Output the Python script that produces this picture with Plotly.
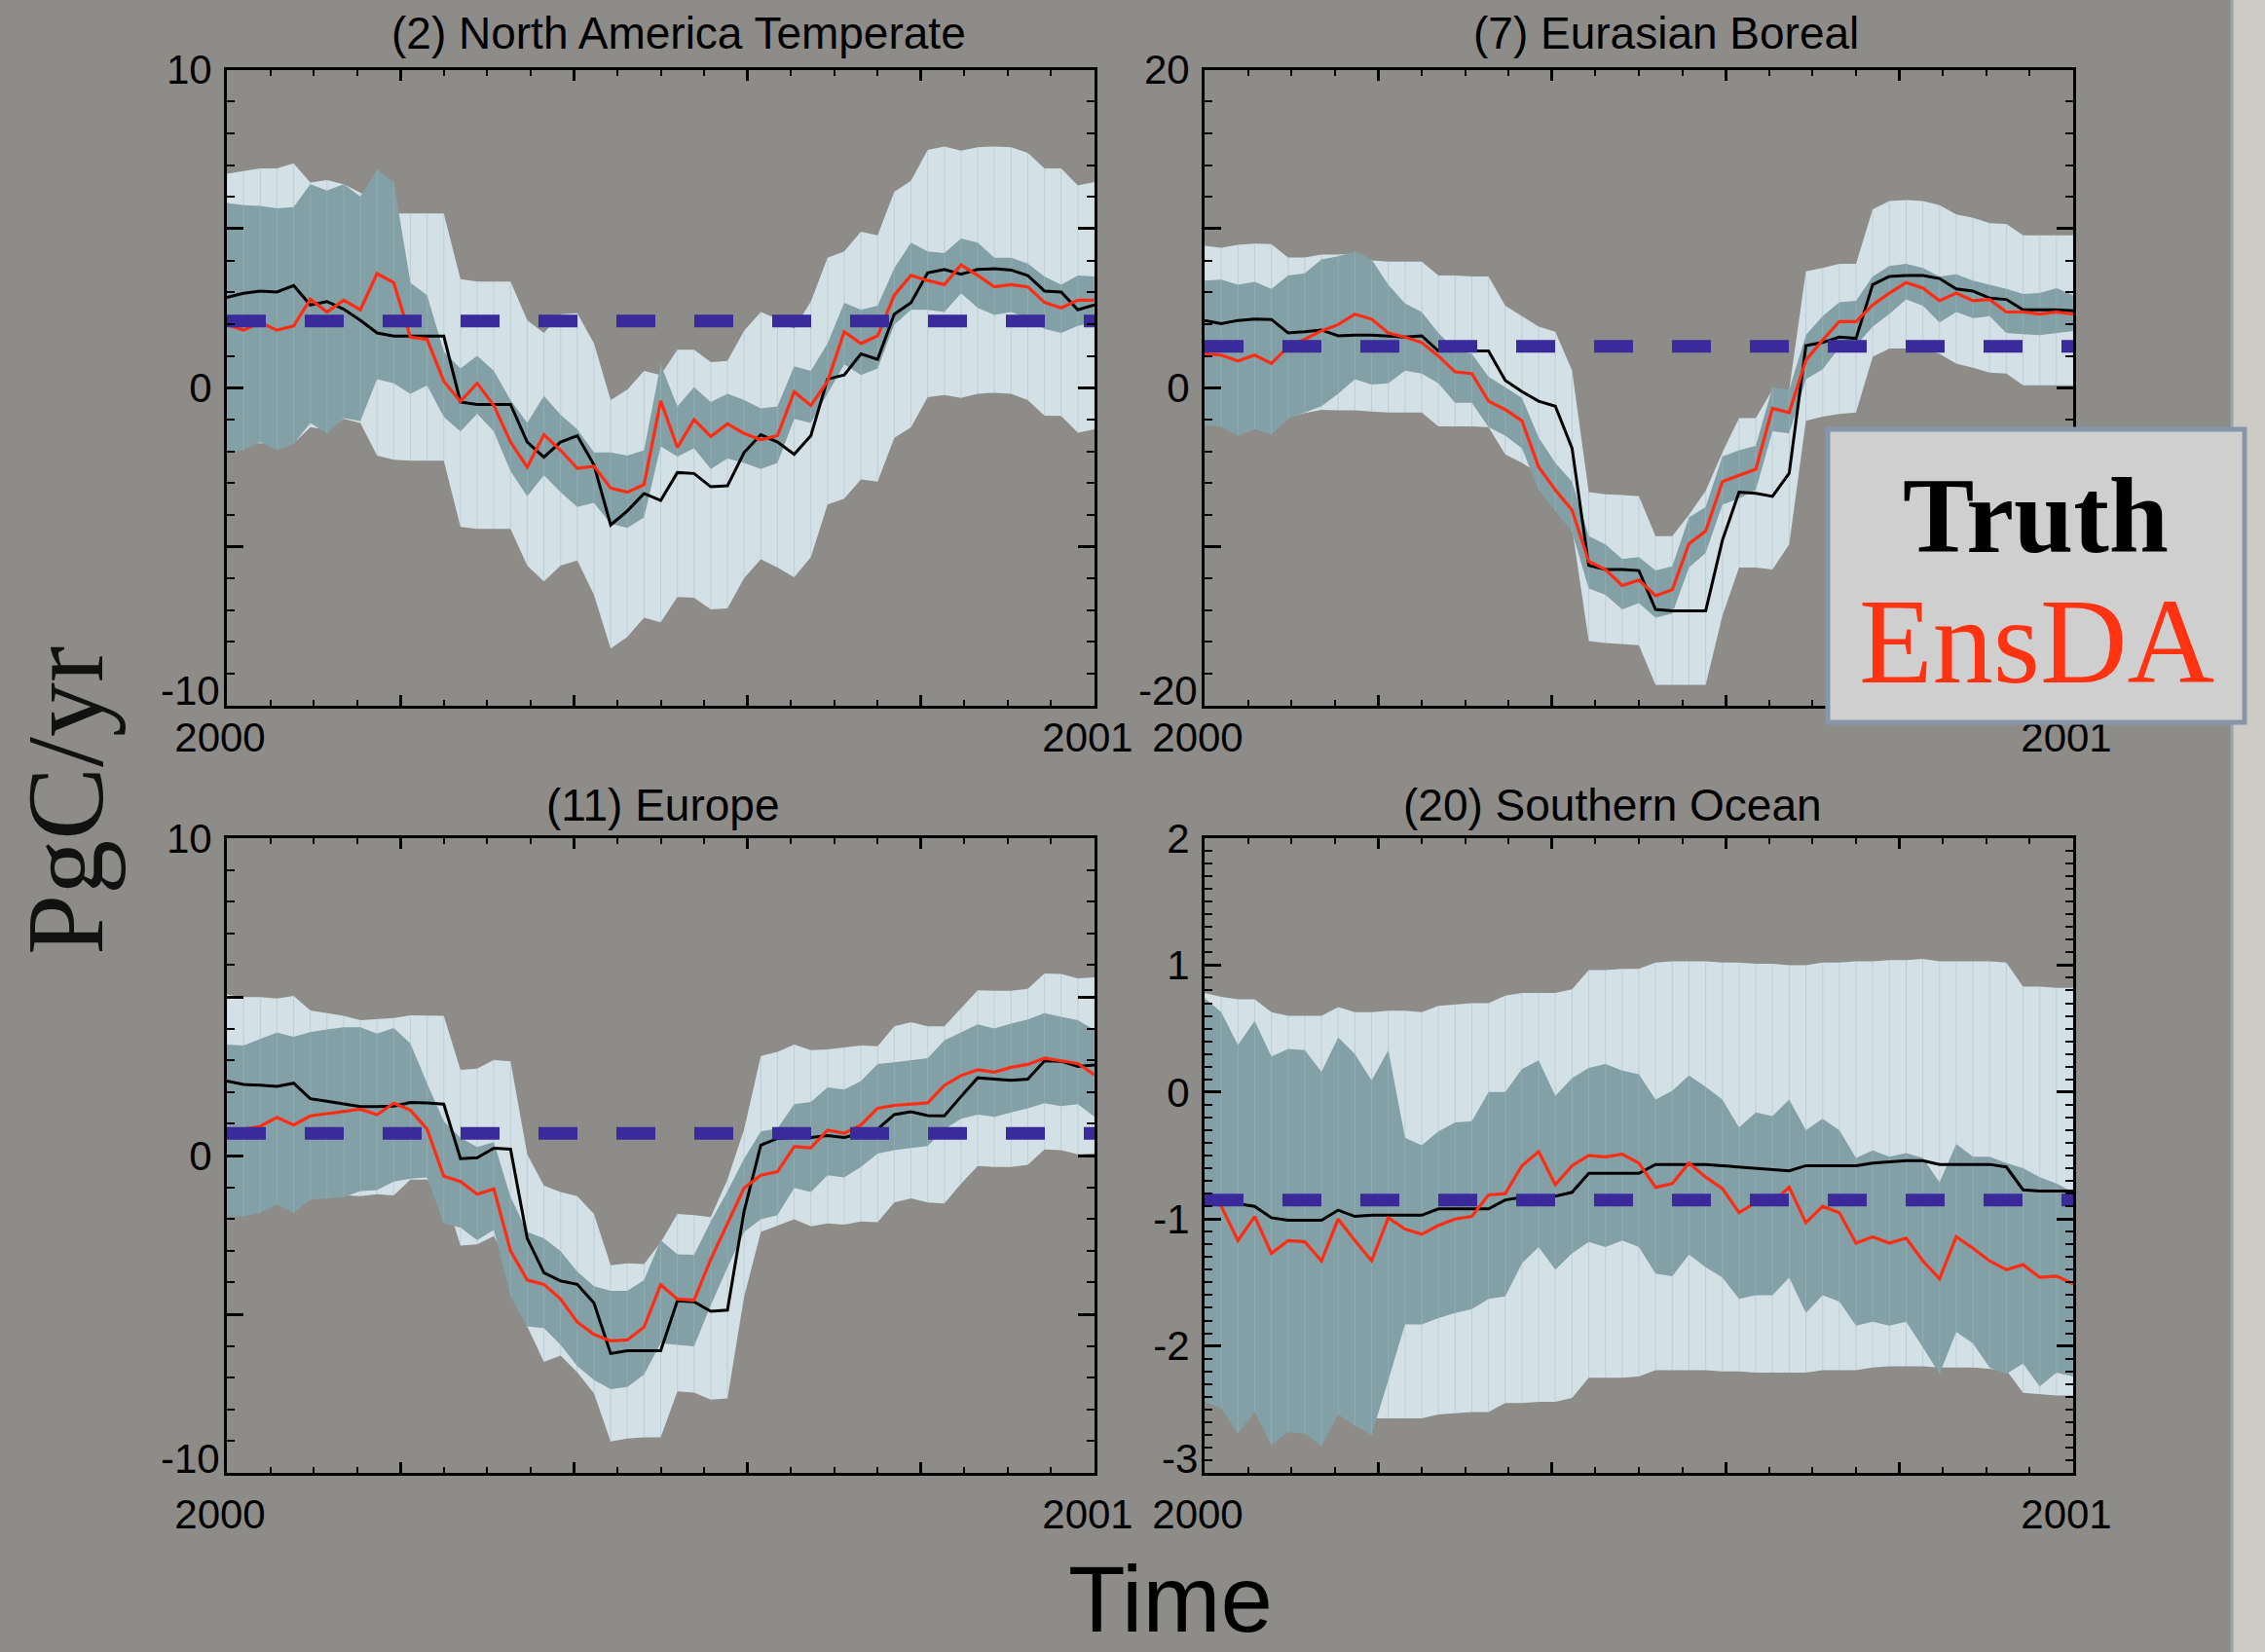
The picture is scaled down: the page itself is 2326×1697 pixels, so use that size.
import plotly.graph_objects as go

W, H = 2326, 1697

# ---------------- data (weekly values over one year) ----------------
weeks = list(range(53))
time = [2000 + w / 52 for w in weeks]

# (2) North America Temperate
na_light_hi = [6.73, 6.82, 6.90, 6.90, 7.06, 6.45, 6.53, 6.40, 6.14, 5.87, 5.48, 5.48, 5.48, 5.48, 3.41, 3.34, 3.34, 3.34, 2.12, 1.72,
               2.31, 2.34, 1.39, -0.39, -0.06, 0.53, 0.40, 1.19, 1.19, 0.80, 0.84, 1.79, 2.38, 2.16, 1.85, 2.71, 4.09, 4.29, 4.91, 4.79,
               6.16, 6.51, 7.48, 7.59, 7.46, 7.56, 7.59, 7.56, 7.39, 6.90, 6.90, 6.36, 6.47]
na_light_lo = [-1.77, -1.77, -1.75, -1.77, -1.75, -1.25, -1.31, -0.98, -1.11, -2.14, -2.27, -2.30, -2.30, -2.30, -4.38, -4.44, -4.44, -4.44, -5.60, -6.10,
               -5.60, -5.44, -6.52, -8.21, -7.84, -7.24, -7.38, -6.59, -6.61, -6.98, -6.95, -5.99, -5.40, -5.66, -5.97, -5.33, -3.68, -3.49, -2.89, -2.96,
               -1.58, -1.25, -0.30, -0.23, -0.32, -0.19, -0.16, -0.19, -0.39, -0.88, -0.89, -1.42, -1.31]
na_dark_hi = [5.81, 5.74, 5.72, 5.64, 5.68, 6.40, 6.20, 6.40, 6.01, 6.86, 6.47, 3.30, 2.91, 1.13, 0.60, 1.00, 0.53, -0.39, -1.11, -0.26,
              -0.85, -1.31, -2.04, -2.04, -2.14, -1.97, 0.73, -0.59, 0.01, -0.45, -0.19, -0.39, -0.65, -0.59, 0.67, 0.53, 1.39, 2.67, 2.45, 2.58,
              3.76, 4.56, 4.29, 4.23, 4.69, 4.56, 4.09, 4.09, 3.90, 3.50, 3.24, 3.53, 3.50]
na_dark_lo = [-2.04, -1.97, -1.71, -1.97, -1.77, -1.11, -1.44, -0.96, -1.05, 0.27, 0.14, -0.19, 0.07, -0.92, -1.38, -0.82, -1.38, -2.63, -3.42, -2.76,
              -3.29, -3.75, -3.62, -4.28, -4.41, -4.08, -1.85, -2.17, -1.91, -2.56, -2.23, -2.37, -2.56, -2.37, -0.98, -1.11, -0.19, 0.73, 0.40, 0.60,
              1.98, 2.45, 2.45, 2.38, 2.97, 2.51, 2.29, 2.38, 2.18, 1.85, 1.72, 1.94, 2.05]
na_truth = [2.84, 2.97, 3.04, 3.01, 3.21, 2.60, 2.71, 2.47, 2.12, 1.72, 1.62, 1.62, 1.62, 1.62, -0.45, -0.53, -0.53, -0.53, -1.71, -2.19,
            -1.71, -1.51, -2.43, -4.32, -3.88, -3.33, -3.55, -2.67, -2.70, -3.12, -3.09, -2.04, -1.48, -1.71, -2.10, -1.51, 0.27, 0.40, 1.06, 0.89,
            2.31, 2.67, 3.61, 3.72, 3.57, 3.72, 3.74, 3.70, 3.53, 3.04, 3.01, 2.45, 2.60]
na_ensda = [1.98, 1.81, 2.05, 1.81, 1.94, 2.78, 2.38, 2.75, 2.45, 3.59, 3.30, 1.59, 1.52, 0.20, -0.43, 0.14, -0.56, -1.71, -2.50, -1.48,
            -1.97, -2.54, -2.47, -3.16, -3.29, -3.05, -0.42, -1.88, -1.01, -1.54, -1.14, -1.44, -1.64, -1.51, -0.13, -0.56, 0.20, 1.76, 1.39, 1.63,
            2.91, 3.53, 3.37, 3.24, 3.86, 3.53, 3.17, 3.24, 3.17, 2.68, 2.51, 2.75, 2.75]
na_prior = 2.1

# (7) Eurasian Boreal
eb_light_hi = [8.93, 8.80, 8.98, 9.06, 9.03, 8.19, 8.19, 8.37, 8.37, 8.45, 8.00, 7.93, 7.93, 7.93, 7.06, 7.06, 7.00, 7.00, 5.16, 4.50,
               3.84, 3.52, 1.07, -6.57, -6.71, -6.76, -6.84, -9.34, -9.34, -8.00, -6.50, -4.07, -1.91, -1.91, -0.12, -0.12, 7.32, 7.53, 7.79, 7.79,
               11.22, 11.75, 11.80, 11.75, 11.48, 10.90, 10.69, 10.35, 10.30, 9.59, 9.59, 9.59, 9.59]
eb_light_lo = [-1.90, -1.95, -2.10, -2.00, -2.10, -1.90, -1.60, -1.40, -1.43, -1.43, -1.51, -1.57, -1.57, -1.57, -2.44, -2.44, -2.44, -2.49, -4.20, -4.73,
               -5.39, -6.97, -8.82, -15.94, -16.07, -16.15, -16.20, -18.70, -18.70, -18.70, -18.70, -14.35, -11.32, -11.32, -11.45, -9.87, -2.09, -1.83, -1.65, -1.57,
               1.94, 2.47, 2.47, 2.47, 2.13, 1.52, 1.26, 0.94, 0.89, 0.15, 0.15, 0.15, 0.15]
eb_dark_hi = [6.74, 6.79, 6.48, 6.66, 6.21, 7.06, 7.19, 8.06, 8.27, 8.58, 8.06, 6.48, 5.29, 4.76, 3.44, 2.39, 2.13, 0.68, 0.02, -0.64,
              -3.15, -4.73, -5.92, -9.35, -9.87, -10.79, -10.66, -11.51, -11.24, -8.16, -7.50, -4.33, -3.94, -3.67, 0.02, -0.12, 3.31, 4.50, 5.37, 5.47,
              7.00, 7.66, 7.79, 7.53, 7.00, 7.13, 6.74, 6.48, 6.21, 5.90, 5.95, 6.26, 5.82]
eb_dark_lo = [-2.36, -2.49, -3.02, -2.62, -2.96, -1.96, -1.57, -1.17, -0.38, 0.54, 0.20, 0.28, 1.07, 0.89, 0.28, -0.96, -0.96, -2.49, -3.02, -3.81,
              -6.44, -7.76, -9.08, -12.64, -13.04, -13.96, -13.56, -14.48, -14.22, -11.32, -10.40, -7.37, -6.97, -6.44, -2.75, -2.88, 0.54, 1.15, 2.52, 2.65,
              3.84, 4.63, 5.55, 5.16, 4.10, 4.76, 4.37, 4.50, 3.44, 3.36, 3.31, 3.44, 3.57]
eb_truth = [4.23, 4.02, 4.23, 4.31, 4.29, 3.44, 3.52, 3.63, 3.26, 3.31, 3.31, 3.23, 3.18, 3.26, 2.31, 2.31, 2.31, 2.31, 0.46, -0.25,
            -0.85, -1.17, -3.81, -11.19, -11.45, -11.45, -11.51, -13.96, -14.04, -14.04, -14.04, -9.61, -6.57, -6.65, -6.84, -5.39, 2.65, 2.84, 3.18, 3.10,
            6.48, 7.00, 7.06, 7.06, 6.87, 6.21, 6.08, 5.63, 5.55, 4.89, 4.89, 4.89, 4.84]
eb_ensda = [2.13, 2.05, 1.68, 2.05, 1.52, 2.57, 3.05, 3.57, 3.97, 4.63, 4.31, 3.44, 3.18, 2.84, 1.99, 0.99, 0.89, -0.85, -1.38, -2.09,
            -4.99, -6.44, -7.71, -10.93, -11.45, -12.45, -12.11, -13.09, -12.72, -9.82, -9.03, -5.92, -5.52, -5.13, -1.30, -1.57, 1.73, 2.99, 4.16, 4.16,
            5.21, 5.95, 6.61, 6.26, 5.47, 5.95, 5.47, 5.55, 4.76, 4.76, 4.63, 4.76, 4.63]
eb_prior = 2.6

# (11) Europe
eu_light_hi = [5.08, 4.99, 4.99, 4.95, 5.03, 4.57, 4.49, 4.40, 4.26, 4.29, 4.33, 4.42, 4.42, 4.40, 2.70, 2.74, 3.01, 2.97, 0.04, -0.95,
               -1.15, -1.28, -1.84, -3.46, -3.40, -3.42, -2.74, -1.84, -1.88, -1.94, -0.76, 0.83, 3.14, 3.27, 3.50, 3.32, 3.34, 3.40, 3.47, 3.44,
               4.07, 4.20, 4.07, 4.07, 4.63, 5.21, 5.19, 5.19, 5.25, 5.74, 5.72, 5.58, 5.61]
eu_light_lo = [-1.30, -1.30, -1.25, -1.30, -1.30, -1.15, -1.10, -1.25, -1.28, -1.22, -1.26, -0.76, -0.76, -1.13, -2.84, -2.80, -2.54, -3.53, -5.38, -6.50,
               -6.30, -6.83, -7.49, -9.01, -8.92, -8.88, -8.88, -7.43, -7.47, -7.69, -7.65, -4.45, -2.41, -2.21, -2.01, -2.23, -2.14, -2.18, -2.08, -2.10,
               -1.48, -1.35, -1.48, -1.51, -0.89, -0.33, -0.36, -0.36, -0.29, 0.19, 0.17, 0.04, 0.07]
eu_dark_hi = [3.50, 3.47, 3.67, 3.87, 3.74, 3.89, 3.97, 4.04, 4.04, 3.84, 4.02, 3.53, 2.27, 1.08, 0.56, 0.27, 0.42, -1.30, -2.41, -2.61,
              -3.01, -3.66, -4.12, -4.26, -4.26, -3.93, -2.67, -3.11, -3.13, -2.08, -1.13, -0.10, 0.76, 0.85, 1.62, 1.69, 2.15, 2.08, 2.35, 2.88,
              2.94, 3.01, 3.07, 3.63, 3.89, 4.13, 4.00, 4.16, 4.29, 4.49, 4.37, 4.26, 3.96]
eu_dark_lo = [-1.92, -1.92, -1.81, -1.55, -1.81, -1.39, -1.35, -1.31, -1.12, -1.09, -0.82, -0.73, -0.69, -2.14, -2.27, -2.67, -2.34, -4.45, -5.38, -5.44,
              -5.97, -6.63, -7.07, -7.36, -7.29, -6.90, -5.91, -5.97, -6.01, -4.72, -3.53, -2.41, -2.01, -1.88, -1.02, -1.15, -0.62, -0.69, -0.36, 0.06,
              0.17, 0.24, 0.30, 0.83, 1.16, 1.29, 1.22, 1.36, 1.49, 1.65, 1.56, 1.62, 1.22]
eu_truth = [2.35, 2.24, 2.22, 2.18, 2.28, 1.79, 1.71, 1.62, 1.54, 1.54, 1.56, 1.67, 1.66, 1.62, -0.10, -0.07, 0.23, 0.20, -2.61, -3.69,
            -3.95, -4.06, -4.65, -6.24, -6.15, -6.15, -6.15, -4.58, -4.61, -4.91, -4.87, -1.75, 0.33, 0.54, 0.57, 0.57, 0.63, 0.57, 0.70, 0.83,
            1.29, 1.38, 1.26, 1.25, 1.86, 2.45, 2.41, 2.37, 2.41, 2.98, 2.97, 2.81, 2.85]
eu_ensda = [0.80, 0.83, 0.92, 1.20, 0.96, 1.25, 1.32, 1.39, 1.46, 1.29, 1.65, 1.43, 0.83, -0.65, -0.82, -1.22, -1.05, -3.00, -3.92, -4.06,
            -4.52, -5.25, -5.64, -5.84, -5.81, -5.41, -4.07, -4.52, -4.56, -3.27, -2.14, -1.02, -0.62, -0.51, 0.28, 0.24, 0.80, 0.70, 0.96, 1.49,
            1.58, 1.62, 1.66, 2.21, 2.52, 2.70, 2.63, 2.78, 2.87, 3.07, 2.98, 2.90, 2.54]
eu_prior = 0.7

# (20) Southern Ocean
so_light_hi = [0.78, 0.75, 0.73, 0.73, 0.63, 0.60, 0.60, 0.60, 0.67, 0.63, 0.63, 0.64, 0.64, 0.63, 0.68, 0.69, 0.70, 0.70, 0.76, 0.78,
               0.78, 0.78, 0.81, 0.96, 0.96, 0.97, 0.97, 1.02, 1.03, 1.03, 1.03, 1.02, 1.02, 1.01, 1.01, 1.00, 1.00, 1.02, 1.02, 1.03,
               1.03, 1.04, 1.04, 1.05, 1.03, 1.03, 1.03, 1.03, 1.02, 0.83, 0.83, 0.82, 0.82]
so_light_lo = [-2.42, -2.47, -2.50, -2.52, -2.54, -2.54, -2.54, -2.55, -2.54, -2.60, -2.57, -2.57, -2.57, -2.57, -2.54, -2.53, -2.52, -2.52, -2.45, -2.45,
               -2.44, -2.44, -2.41, -2.25, -2.25, -2.25, -2.24, -2.19, -2.19, -2.19, -2.19, -2.20, -2.20, -2.21, -2.21, -2.21, -2.21, -2.19, -2.19, -2.19,
               -2.17, -2.16, -2.16, -2.16, -2.17, -2.17, -2.17, -2.18, -2.19, -2.37, -2.38, -2.39, -2.39]
so_dark_hi = [0.74, 0.63, 0.37, 0.56, 0.28, 0.34, 0.33, 0.16, 0.43, 0.30, 0.09, 0.33, -0.36, -0.42, -0.31, -0.24, -0.23, 0.00, 0.00, 0.18,
              0.25, -0.03, 0.11, 0.19, 0.22, 0.17, 0.14, -0.06, 0.01, 0.13, 0.04, -0.06, -0.28, -0.16, -0.19, -0.06, -0.30, -0.21, -0.30, -0.52,
              -0.46, -0.51, -0.48, -0.52, -0.71, -0.41, -0.51, -0.51, -0.56, -0.60, -0.67, -0.72, -0.79]
so_dark_lo = [-2.44, -2.49, -2.69, -2.52, -2.78, -2.68, -2.69, -2.79, -2.54, -2.63, -2.70, -2.27, -1.83, -1.83, -1.78, -1.74, -1.71, -1.63, -1.61, -1.35,
              -1.22, -1.40, -1.27, -1.18, -1.22, -1.17, -1.22, -1.43, -1.45, -1.28, -1.38, -1.46, -1.63, -1.60, -1.60, -1.46, -1.74, -1.60, -1.65, -1.84,
              -1.81, -1.84, -1.81, -2.01, -2.22, -1.89, -1.98, -2.17, -2.22, -2.14, -2.32, -2.21, -2.24]
so_truth = [-0.82, -0.87, -0.88, -0.90, -0.99, -1.01, -1.01, -1.01, -0.93, -0.98, -0.97, -0.97, -0.97, -0.97, -0.92, -0.92, -0.92, -0.92, -0.85, -0.83,
            -0.82, -0.82, -0.79, -0.64, -0.64, -0.64, -0.64, -0.57, -0.57, -0.57, -0.57, -0.58, -0.59, -0.60, -0.61, -0.62, -0.58, -0.58, -0.58, -0.58,
            -0.56, -0.55, -0.54, -0.54, -0.57, -0.57, -0.57, -0.57, -0.59, -0.77, -0.78, -0.78, -0.78]
so_ensda = [-0.82, -0.90, -1.17, -0.98, -1.27, -1.17, -1.18, -1.33, -1.00, -1.17, -1.33, -0.99, -1.08, -1.12, -1.05, -1.00, -0.98, -0.81, -0.80, -0.58,
            -0.47, -0.73, -0.58, -0.50, -0.51, -0.49, -0.56, -0.75, -0.72, -0.56, -0.67, -0.76, -0.95, -0.87, -0.87, -0.75, -1.03, -0.90, -0.95, -1.19,
            -1.14, -1.19, -1.15, -1.33, -1.47, -1.14, -1.23, -1.33, -1.40, -1.36, -1.46, -1.45, -1.51]
so_prior = -0.85

# tick labels
x_tickvals = [2000, 2000.2, 2000.4, 2000.6, 2000.8, 2001]
x_ticktext = ["2000", "", "", "", "", "2001"]

# ---------------- styling ----------------
BG = "#8e8c88"
LIGHT = "#d3e0e6"
DARK = "#82a0a6"
RED = "#ff2b12"
BLUE = "#3a2a9c"
TICKFONT = dict(family="Liberation Sans, Arial, sans-serif", size=42, color="black")


def px(xp):
    return xp / W


def py(yp):
    return 1 - yp / H


xl = [px(233), px(1124)]
xr = [px(1237), px(2129)]
yt = [py(724.7), py(71.7)]
yb = [py(1513), py(861)]

panels = [
    dict(title="(2) North America Temperate", tx=697, ty=34, xd=xl, yd=yt, left=233, bottom=724.7,
         lhi=na_light_hi, llo=na_light_lo, dhi=na_dark_hi, dlo=na_dark_lo,
         truth=na_truth, ens=na_ensda, prior=na_prior,
         yrange=[-10, 10], ytv=[-10, -5, 0, 5, 10], ytt=["-10", "", "0", "", "10"], ymin=1, xstand=-6),
    dict(title="(7) Eurasian Boreal", tx=1711, ty=34, xd=xr, yd=yt, left=1237, bottom=724.7,
         lhi=eb_light_hi, llo=eb_light_lo, dhi=eb_dark_hi, dlo=eb_dark_lo,
         truth=eb_truth, ens=eb_ensda, prior=eb_prior,
         yrange=[-20, 20], ytv=[-20, -10, 0, 10, 20], ytt=["-20", "", "0", "", "20"], ymin=2, xstand=-6),
    dict(title="(11) Europe", tx=681, ty=827, xd=xl, yd=yb, left=233, bottom=1513,
         lhi=eu_light_hi, llo=eu_light_lo, dhi=eu_dark_hi, dlo=eu_dark_lo,
         truth=eu_truth, ens=eu_ensda, prior=eu_prior,
         yrange=[-10, 10], ytv=[-10, -5, 0, 5, 10], ytt=["-10", "", "0", "", "10"], ymin=1, xstand=4),
    dict(title="(20) Southern Ocean", tx=1656, ty=827, xd=xr, yd=yb, left=1237, bottom=1513,
         lhi=so_light_hi, llo=so_light_lo, dhi=so_dark_hi, dlo=so_dark_lo,
         truth=so_truth, ens=so_ensda, prior=so_prior,
         yrange=[-3, 2], ytv=[-3, -2, -1, 0, 1, 2], ytt=["-3", "-2", "-1", "0", "1", "2"], ymin=0.1, xstand=4),
]

for p in panels:
    for k in ("lhi", "llo", "dhi", "dlo", "truth", "ens"):
        assert len(p[k]) == len(time), (p["title"], k, len(p[k]))

fig = go.Figure()
layout = dict(
    width=W, height=H, autosize=False,
    margin=dict(l=0, r=0, t=0, b=0, pad=0),
    paper_bgcolor=BG, plot_bgcolor="rgba(0,0,0,0)",
    showlegend=False,
    annotations=[], shapes=[],
)


def stripes(lo, hi):
    xs, ys = [], []
    for t, a, b in zip(time, lo, hi):
        xs += [t, t, None]
        ys += [a, b, None]
    return xs, ys


for i, p in enumerate(panels, start=1):
    xa = "x" if i == 1 else f"x{i}"
    ya = "y" if i == 1 else f"y{i}"
    # light (wide) band
    fig.add_trace(go.Scatter(x=time + time[::-1], y=p["lhi"] + p["llo"][::-1], fill="toself",
                             fillcolor=LIGHT, line=dict(width=0), mode="lines", xaxis=xa, yaxis=ya,
                             hoverinfo="skip"))
    sx, sy = stripes(p["llo"], p["lhi"])
    fig.add_trace(go.Scatter(x=sx, y=sy, mode="lines", line=dict(color="rgba(150,175,188,0.35)", width=1),
                             xaxis=xa, yaxis=ya, hoverinfo="skip"))
    # dark (narrow) band
    fig.add_trace(go.Scatter(x=time + time[::-1], y=p["dhi"] + p["dlo"][::-1], fill="toself",
                             fillcolor=DARK, line=dict(width=0), mode="lines", xaxis=xa, yaxis=ya,
                             hoverinfo="skip"))
    sx, sy = stripes(p["dlo"], p["dhi"])
    fig.add_trace(go.Scatter(x=sx, y=sy, mode="lines", line=dict(color="rgba(190,210,215,0.25)", width=1),
                             xaxis=xa, yaxis=ya, hoverinfo="skip"))
    # truth (black) and EnsDA (red)
    fig.add_trace(go.Scatter(x=time, y=p["truth"], mode="lines", line=dict(color="black", width=3),
                             xaxis=xa, yaxis=ya))
    fig.add_trace(go.Scatter(x=time, y=p["ens"], mode="lines", line=dict(color=RED, width=3.2),
                             xaxis=xa, yaxis=ya))
    # prior (blue dashed)
    fig.add_trace(go.Scatter(x=[time[0], time[-1]], y=[p["prior"], p["prior"]], mode="lines",
                             line=dict(color=BLUE, width=13, dash="40px,40px"), xaxis=xa, yaxis=ya))

    # the lowest y label sits a little above its tick (as in the original), drawn separately
    ytt_axis = [""] + p["ytt"][1:]
    layout["annotations"].append(dict(
        text=p["ytt"][0], xref="paper", yref="paper", x=px(p["left"] - 5), y=py(p["bottom"] - 15),
        xanchor="right", yanchor="middle", showarrow=False, font=TICKFONT))

    xkey = "xaxis" if i == 1 else f"xaxis{i}"
    ykey = "yaxis" if i == 1 else f"yaxis{i}"
    layout[xkey] = dict(
        domain=p["xd"], anchor=ya, range=[2000, 2001], showgrid=False, zeroline=False, automargin=False,
        showline=True, linecolor="black", linewidth=3, mirror="ticks",
        ticks="inside", ticklen=11, tickwidth=3, tickcolor="black",
        tickmode="array", tickvals=x_tickvals, ticktext=x_ticktext,
        tickfont=TICKFONT, ticklabelstandoff=p["xstand"], ticklabelshift=-7,
        minor=dict(ticks="inside", tick0=2000, dtick=0.05, ticklen=6, tickwidth=2, tickcolor="black"),
    )
    layout[ykey] = dict(
        domain=p["yd"], anchor=xa, range=p["yrange"], showgrid=False, zeroline=False, automargin=False,
        showline=True, linecolor="black", linewidth=3, mirror="ticks",
        ticks="inside", ticklen=17, tickwidth=3, tickcolor="black",
        tickmode="array", tickvals=p["ytv"], ticktext=ytt_axis,
        tickfont=TICKFONT, ticklabelstandoff=4,
        minor=dict(ticks="inside", tick0=0, dtick=p["ymin"], ticklen=8, tickwidth=2, tickcolor="black"),
    )
    layout["annotations"].append(dict(
        text=p["title"], xref="paper", yref="paper", x=px(p["tx"]), y=py(p["ty"]),
        xanchor="center", yanchor="middle", showarrow=False,
        font=dict(family="Liberation Sans, Arial, sans-serif", size=46, color="black")))

# right-hand page strip
layout["shapes"].append(dict(type="rect", xref="paper", yref="paper", x0=px(2292), x1=1, y0=0, y1=1,
                             fillcolor="#cdcac4", line=dict(width=0), layer="below"))
layout["shapes"].append(dict(type="line", xref="paper", yref="paper", x0=px(2292), x1=px(2292), y0=0, y1=1,
                             line=dict(color="#9aa3b0", width=3), layer="below"))
# legend box
layout["shapes"].append(dict(type="rect", xref="paper", yref="paper", x0=px(1877), x1=px(2305),
                             y0=py(742), y1=py(441), fillcolor="#cfcfcf",
                             line=dict(color="#8797ab", width=5), layer="above"))
layout["annotations"] += [
    dict(text="<b>Truth</b>", xref="paper", yref="paper", x=px(2090), y=py(530), xanchor="center", yanchor="middle",
         showarrow=False, font=dict(family="Liberation Serif, Times New Roman, serif", size=110, color="black")),
    dict(text="EnsDA", xref="paper", yref="paper", x=px(2091), y=py(660), xanchor="center", yanchor="middle",
         showarrow=False, font=dict(family="Liberation Serif, Times New Roman, serif", size=124, color="#ff3311")),
    dict(text="PgC/yr", xref="paper", yref="paper", x=px(67), y=py(823), xanchor="center", yanchor="middle",
         textangle=-90, showarrow=False,
         font=dict(family="Liberation Serif, Times New Roman, serif", size=112, color="#111111")),
    dict(text="Time", xref="paper", yref="paper", x=px(1202), y=py(1642), xanchor="center", yanchor="middle",
         showarrow=False, font=dict(family="Liberation Sans, Arial, sans-serif", size=96, color="black")),
]

fig.update_layout(**layout)
fig.write_html("out.html", config={"displayModeBar": False},
               post_script="document.body.style.margin='0';document.body.style.overflow='hidden';")
